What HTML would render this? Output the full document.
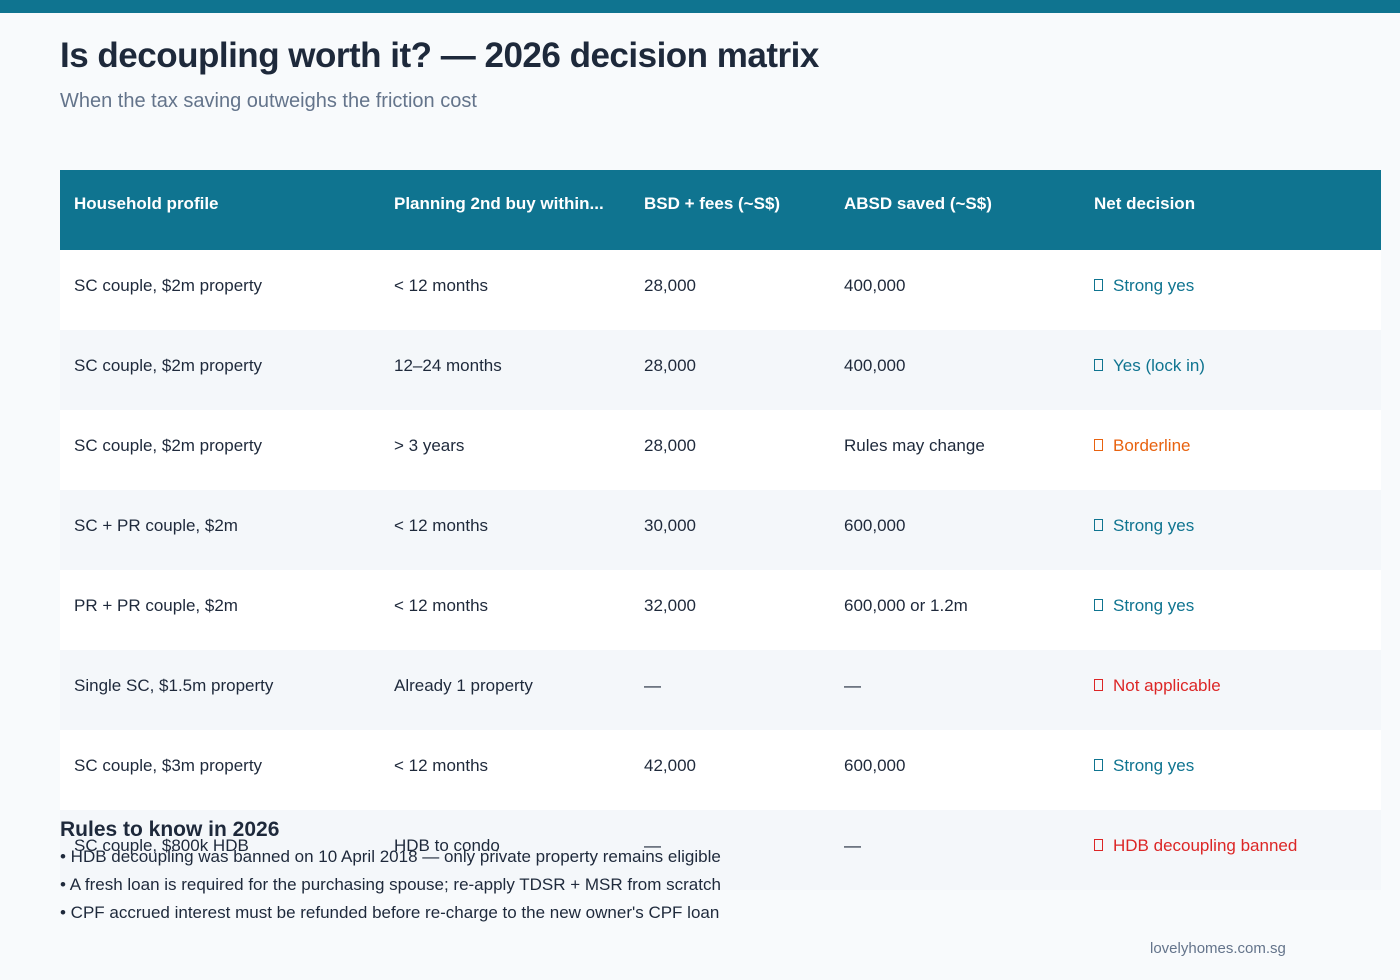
<!DOCTYPE html>
<html><head><meta charset="utf-8"><style>
body{margin:0;width:1400px;height:980px;background:#f8fafc;font-family:"Liberation Sans",sans-serif;position:relative;overflow:hidden}
.bar{position:absolute;left:0;top:0;width:1400px;height:13px;background:#0f7490}
.t{position:absolute;left:60px;top:36px;font-size:35px;font-weight:bold;color:#1e293b;letter-spacing:-0.5px}
.s{position:absolute;left:60px;top:90px;font-size:20px;color:#64748b}
.tbl{position:absolute;left:60px;top:170px;width:1321px}
.hd{height:80px;background:#0f7490;color:#fff;font-weight:bold;font-size:17px;position:relative}
.row{height:80px;position:relative;font-size:17px;color:#1e293b}
.row:nth-child(odd){background:#fff}
.row:nth-child(even){background:#f4f7fa}
.c{position:absolute;top:0;line-height:72px;white-space:nowrap}
.c1{left:14px}.c2{left:334px}.c3{left:584px}.c4{left:784px}.c5{left:1034px}
.hd .c{line-height:68px}
.ic{display:inline-block;width:7px;height:10px;border:1px solid currentColor;margin-right:10px;vertical-align:middle;position:relative;top:-2px}
.g{color:#0f7490}.o{color:#e8620f}.r{color:#dc2626}
.rules{position:absolute;left:60px;top:817px;color:#1e293b}
.rules h3{margin:0;font-size:21px;font-weight:bold;line-height:26px}
.rules div{font-size:17px;line-height:28px}
.ft{position:absolute;left:1150px;top:940px;font-size:15px;color:#64748b}
</style></head><body>
<div class="bar"></div>
<div class="t">Is decoupling worth it? — 2026 decision matrix</div>
<div class="s">When the tax saving outweighs the friction cost</div>
<div class="tbl">
<div class="hd"><span class="c c1">Household profile</span><span class="c c2">Planning 2nd buy within...</span><span class="c c3">BSD + fees (~S$)</span><span class="c c4">ABSD saved (~S$)</span><span class="c c5">Net decision</span></div>
<div id="rows"></div>
</div>
<div class="rules">
<h3>Rules to know in 2026</h3>
<div>• HDB decoupling was banned on 10 April 2018 — only private property remains eligible</div>
<div>• A fresh loan is required for the purchasing spouse; re-apply TDSR + MSR from scratch</div>
<div>• CPF accrued interest must be refunded before re-charge to the new owner's CPF loan</div>
</div>
<div class="ft">lovelyhomes.com.sg</div>
<script>
const profiles=["SC couple, $2m property","SC couple, $2m property","SC couple, $2m property","SC + PR couple, $2m","PR + PR couple, $2m","Single SC, $1.5m property","SC couple, $3m property","SC couple, $800k HDB"];
const timing=["< 12 months","12–24 months","> 3 years","< 12 months","< 12 months","Already 1 property","< 12 months","HDB to condo"];
const fees=["28,000","28,000","28,000","30,000","32,000","—","42,000","—"];
const saved=["400,000","400,000","Rules may change","600,000","600,000 or 1.2m","—","600,000","—"];
const decision=["Strong yes","Yes (lock in)","Borderline","Strong yes","Strong yes","Not applicable","Strong yes","HDB decoupling banned"];
const tone=["g","g","o","g","g","r","g","r"];
const host=document.getElementById('rows');
profiles.forEach((p,i)=>{
 const r=document.createElement('div');r.className='row';
 
 
 r.innerHTML='<span class="c c1"></span><span class="c c2"></span><span class="c c3"></span><span class="c c4"></span><span class="c c5 '+tone[i]+'"><span class="ic"></span></span>';
 const cs=r.querySelectorAll('.c');
 cs[0].appendChild(document.createTextNode(p));
 cs[1].appendChild(document.createTextNode(timing[i]));
 cs[2].appendChild(document.createTextNode(fees[i]));
 cs[3].appendChild(document.createTextNode(saved[i]));
 cs[4].appendChild(document.createTextNode(decision[i]));
 host.appendChild(r);
});
</script>
</body></html>
